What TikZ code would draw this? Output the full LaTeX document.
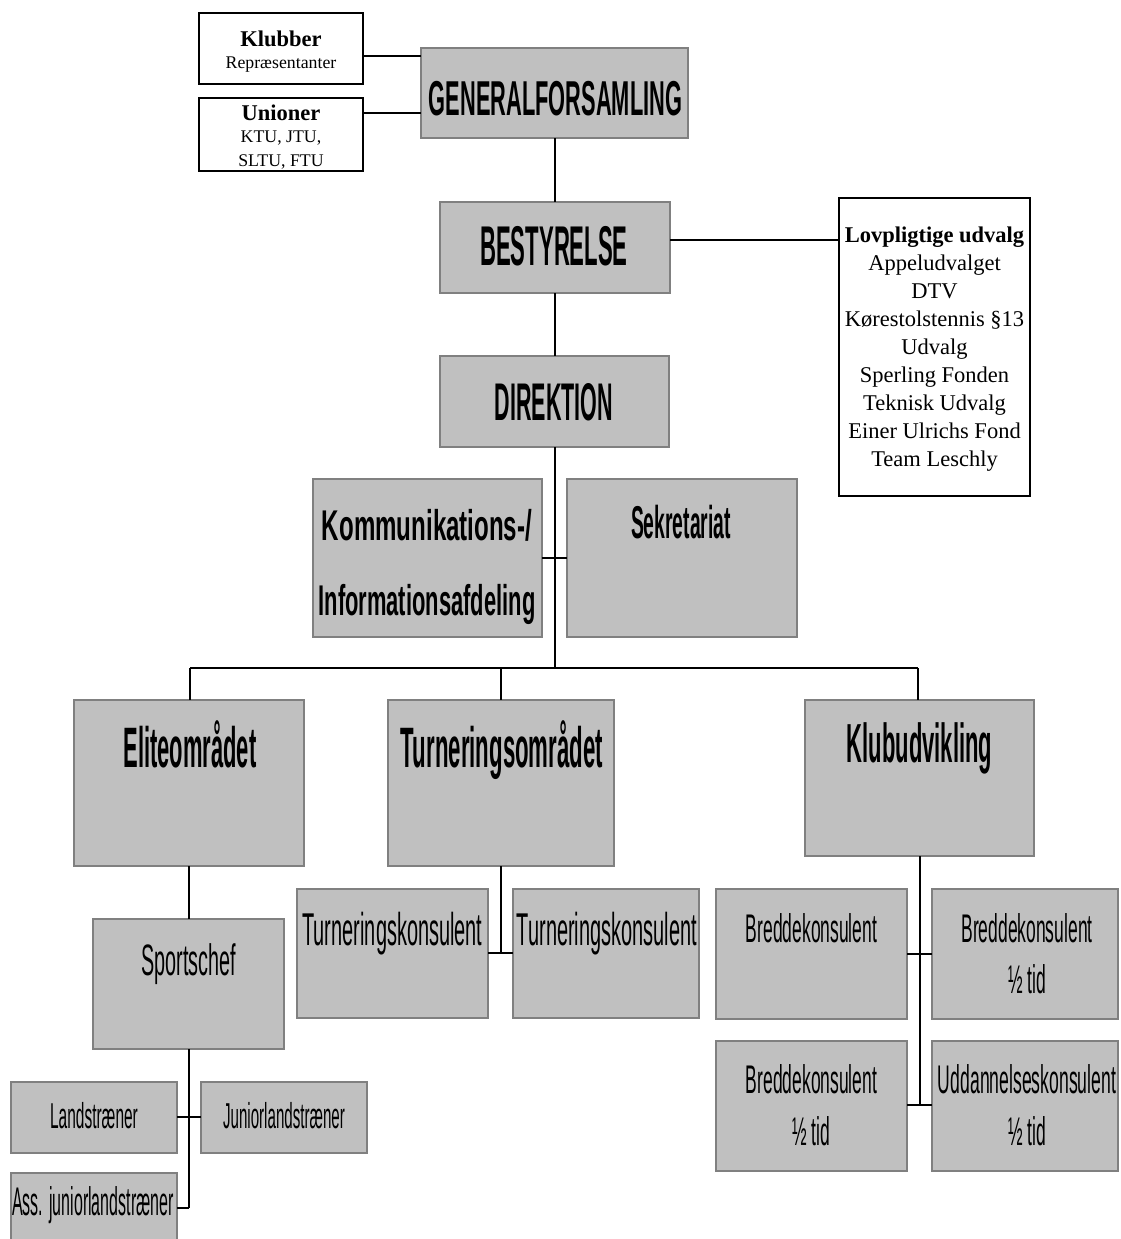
\documentclass[tikz,border=0pt]{standalone}
\usepackage{fontspec}
\setmainfont{Liberation Serif}
\setsansfont{Liberation Sans}
\usepackage{graphicx}
\definecolor{boxgray}{RGB}{192,192,192}
\definecolor{edgegray}{RGB}{128,128,128}
\newcommand\sqz[3]{\scalebox{#1}[1]{\fontsize{#2}{#2}\selectfont\sffamily #3}}
\newcommand\bx[6]{\node[#1, minimum width={(#5-#3)*1pt}, minimum height={(#6-#4)*1pt}] (#2) at ({(#3+#5)/2},{(#4+#6)/2}) {};}
\tikzset{
  gbox/.style={rectangle, draw=edgegray, fill=boxgray, line width=1.6pt, inner sep=0pt, outer sep=0pt},
  wbox/.style={rectangle, draw=black, fill=white, line width=1.3pt, inner sep=0pt, outer sep=0pt},
  txt/.style={inner sep=0pt, outer sep=0pt, anchor=base},
  conn/.style={line width=1.2pt, draw=black},
  busline/.style={line width=2.2pt, draw=black},
}
\begin{document}
\begin{tikzpicture}[x=1pt, y=-1pt]
\path[use as bounding box] (0,0) rectangle (1120,1239);
\fill[white] (0,0) rectangle (1120,1239);
\clip (0,0) rectangle (1120,1239);

% ---- boxes ----
\bx{wbox}{klub}{199}{13}{363}{84}
\bx{wbox}{union}{199}{98}{363}{171}
\bx{gbox}{gen}{421}{48}{688}{138}
\bx{gbox}{best}{440}{202}{670}{293}
\bx{wbox}{lov}{839}{198}{1030}{496}
\bx{gbox}{dir}{440}{356}{669}{447}
\bx{gbox}{kom}{313}{479}{542}{637}
\bx{gbox}{sek}{567}{479}{797}{637}
\bx{gbox}{elite}{74}{700}{304}{866}
\bx{gbox}{turn}{388}{700}{614}{866}
\bx{gbox}{klubu}{805}{700}{1034}{856}
\bx{gbox}{sport}{93}{919}{284}{1049}
\bx{gbox}{tka}{297}{889}{488}{1018}
\bx{gbox}{tkb}{513}{889}{699}{1018}
\bx{gbox}{bka}{716}{889}{907}{1019}
\bx{gbox}{bkb}{932}{889}{1118}{1019}
\bx{gbox}{bkc}{716}{1041}{907}{1171}
\bx{gbox}{udd}{932}{1041}{1118}{1171}
\bx{gbox}{land}{11}{1082}{177}{1153}
\bx{gbox}{jun}{201}{1082}{367}{1153}
\bx{gbox}{ass}{11}{1173}{177}{1262}

% ---- coordinates for connectors ----
\coordinate (t1) at (555,0);
\coordinate (k1) at (0,56);
\coordinate (k2) at (0,113);
\coordinate (bl) at (0,240);
\coordinate (ks) at (0,558);
\coordinate (d1) at (190,668);
\coordinate (d2) at (501,668);
\coordinate (d3) at (918,668);
\coordinate (tt) at (501,953);
\coordinate (kt) at (920,0);
\coordinate (kb1) at (0,954);
\coordinate (kb2) at (0,1105);
\coordinate (st) at (189,0);
\coordinate (sl) at (0,1117);
\coordinate (sa) at (0,1208);

% ---- connectors ----
\draw[line width=1.5pt] (klub.east |- k1) -- (gen.west |- k1);
\draw[line width=1.5pt] (union.east |- k2) -- (gen.west |- k2);
\draw[conn] (gen.south -| t1) -- (best.north -| t1);
\draw[conn] (best.south -| t1) -- (dir.north -| t1);
\draw[conn] (best.east |- bl) -- (lov.west |- bl);
\draw[conn] (dir.south -| t1) -- (t1 |- d1);
\draw[busline] (kom.east |- ks) -- (sek.west |- ks);
\draw[busline] (d1) -- (d3);
\draw[conn] (d1) -- (d1 |- elite.north);
\draw[conn] (d2) -- (d2 |- turn.north);
\draw[conn] (d3) -- (d3 |- klubu.north);
\draw[conn] (st |- elite.south) -- (st |- sport.north);
\draw[busline] (st |- sport.south) -- (st |- sa);
\draw[busline] (land.east |- sl) -- (jun.west |- sl);
\draw[busline] (ass.east |- sa) -- (st |- sa);
\draw[conn] (tt |- turn.south) -- (tt);
\draw[busline] (tka.east |- tt) -- (tkb.west |- tt);
\draw[conn] (kt |- klubu.south) -- (kt |- kb2);
\draw[busline] (bka.east |- kb1) -- (bkb.west |- kb1);
\draw[busline] (bkc.east |- kb2) -- (udd.west |- kb2);

% ---- white box texts ----
\node[txt] (klub-t1) at (281,47) {\fontsize{22.5}{24}\selectfont\bfseries Klubber};
\node[txt] (klub-t2) at (281,68) {\fontsize{17.8}{20}\selectfont Repræsentanter};
\node[txt] (union-t1) at (281,120) {\fontsize{22.5}{24}\selectfont\bfseries Unioner};
\node[txt] (union-t2) at (281,142) {\fontsize{17.8}{20}\selectfont KTU, JTU,};
\node[txt] (union-t3) at (281,166) {\fontsize{17.8}{20}\selectfont SLTU, FTU};
\node[txt] (lov-t) at (934.5,242) {\fontsize{22.5}{28.1}\selectfont\begin{tabular}[t]{@{}c@{}}\textbf{Lovpligtige udvalg}\\ Appeludvalget\\ DTV\\ Kørestolstennis §13\\ Udvalg\\ Sperling Fonden\\ Teknisk Udvalg\\ Einer Ulrichs Fond\\ Team Leschly\end{tabular}};

% ---- gray box texts ----
\node[txt] (gen-t) at (555.5,115) {\sqz{0.445}{49}{\bfseries GENERALFORSAMLING}};
\node[txt] (best-t) at (554,265) {\sqz{0.395}{56}{\bfseries BESTYRELSE}};
\node[txt] (dir-t) at (554,420) {\sqz{0.405}{53}{\bfseries DIREKTION}};
\node[txt] (kom-t1) at (427,540) {\sqz{0.56}{43}{\bfseries Kommunikations-/}};
\node[txt] (kom-t2) at (427,615) {\sqz{0.51}{43}{\bfseries Informationsafdeling}};
\node[txt] (sek-t) at (681,538) {\sqz{0.42}{46}{\bfseries Sekretariat}};
\node[txt] (elite-t) at (190,767) {\sqz{0.385}{57}{\bfseries Eliteområdet}};
\node[txt] (turn-t) at (502,767) {\sqz{0.39}{57}{\bfseries Turneringsområdet}};
\node[txt] (klubu-t) at (919.5,762) {\sqz{0.40}{55}{\bfseries Klubudvikling}};
\node[txt] (sport-t) at (189,975) {\sqz{0.45}{44}{Sportschef}};
\node[txt] (tka-t) at (392.5,945) {\sqz{0.434}{46}{Turneringskonsulent}};
\node[txt] (tkb-t) at (607,945) {\sqz{0.434}{46}{Turneringskonsulent}};
\node[txt] (bka-t) at (811.5,942) {\sqz{0.437}{40}{Breddekonsulent}};
\node[txt] (bkb-t1) at (1027,942) {\sqz{0.437}{40}{Breddekonsulent}};
\node[txt] (bkb-t2) at (1027,993) {\sqz{0.437}{40}{½ tid}};
\node[txt] (bkc-t1) at (811.5,1093) {\sqz{0.437}{40}{Breddekonsulent}};
\node[txt] (bkc-t2) at (811.5,1145) {\sqz{0.437}{40}{½ tid}};
\node[txt] (udd-t1) at (1027,1093) {\sqz{0.44}{40}{Uddannelseskonsulent}};
\node[txt] (udd-t2) at (1027,1145) {\sqz{0.437}{40}{½ tid}};
\node[txt] (land-t) at (94,1128) {\sqz{0.43}{36}{Landstræner}};
\node[txt] (jun-t) at (284,1128) {\sqz{0.42}{36}{Juniorlandstræner}};
\node[txt] (ass-t) at (93,1215) {\sqz{0.40}{40}{Ass. juniorlandstræner}};
\end{tikzpicture}
\end{document}
